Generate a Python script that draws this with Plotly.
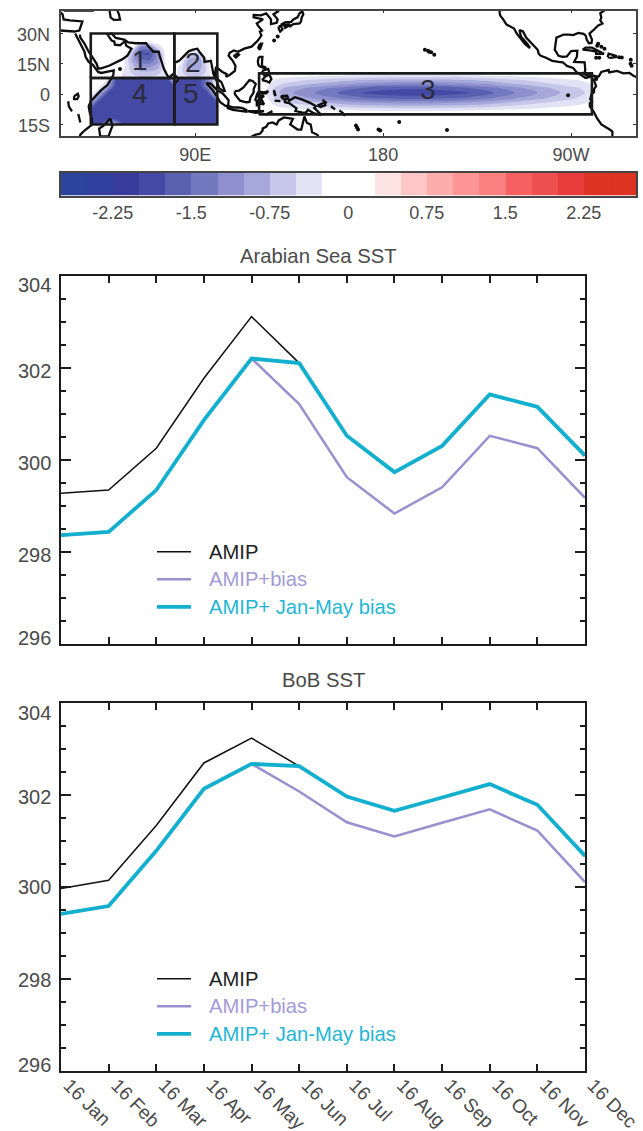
import plotly.graph_objects as go

W, H = 643, 1131
FONT = "Liberation Sans"
GREY = "#4a4a4a"
INK = "#1c1c1c"

months = ["16 Jan", "16 Feb", "16 Mar", "16 Apr", "16 May", "16 Jun",
          "16 Jul", "16 Aug", "16 Sep", "16 Oct", "16 Nov", "16 Dec"]

# ---- Arabian Sea SST
as_amip = [299.27, 299.34, 300.25, 301.77, 303.11, 302.10, 300.52, 299.73, 300.30, 301.42, 301.15, 300.09]
as_bias = [298.36, 298.43, 299.34, 300.86, 302.20, 301.21, 299.62, 298.83, 299.40, 300.52, 300.25, 299.17]
as_janmay = [298.36, 298.43, 299.34, 300.86, 302.20, 302.10, 300.52, 299.73, 300.30, 301.42, 301.15, 300.09]

# ---- BoB SST
bob_amip = [299.96, 300.14, 301.33, 302.69, 303.23, 302.62, 301.96, 301.65, 301.94, 302.23, 301.78, 300.67]
bob_bias = [299.41, 299.58, 300.78, 302.13, 302.67, 302.07, 301.40, 301.09, 301.39, 301.68, 301.22, 300.10]
bob_janmay = [299.41, 299.58, 300.78, 302.13, 302.67, 302.62, 301.96, 301.65, 301.94, 302.23, 301.78, 300.67]

# ---- colour bar
band_edges = [-2.75, -2.5, -2.25, -2.0, -1.75, -1.5, -1.25, -1.0, -0.75, -0.5, -0.25, 0.0,
              0.25, 0.5, 0.75, 1.0, 1.25, 1.5, 1.75, 2.0, 2.25, 2.5, 2.75]
band_colors = ["#2b459f", "#31409e", "#383a9c", "#4349a5", "#5960b0", "#7279bf", "#8d90cd", "#a5a8d9",
               "#c6c6e9", "#e2e2f4", "#ffffff", "#ffffff", "#fee3e3", "#fec6c6", "#feadad", "#fe9595",
               "#fd8080", "#f66060", "#ee5050", "#e83c3c", "#de3426", "#dc3322"]
cbar_ticks = [-2.25, -1.5, -0.75, 0, 0.75, 1.5, 2.25]
cbar_labels = ["-2.25", "-1.5", "-0.75", "0", "0.75", "1.5", "2.25"]

# ---- SST bias fields (lon, lat, values); Z is the near-zero background
Z = -.1
r1_lon = [40, 48, 52, 56, 60, 64, 68, 72, 76, 80]
r1_lat = [8, 11, 14, 17, 20, 23, 26, 30]
r1_z = [[Z, Z, Z, -.3, -.4, -.45, -.45, -.4, -.2, Z],
        [Z, Z, Z, -.3, -.55, -.7, -.7, -.6, -.3, Z],
        [Z, Z, Z, -.2, -.7, -1.05, -1.1, -.9, -.2, Z],
        [Z, Z, Z, -.2, -.85, -1.45, -1.55, -1.1, Z, Z],
        [Z, Z, Z, Z, -.75, -1.75, -1.8, -1.1, Z, Z],
        [Z, Z, Z, Z, -.2, -1.3, -1.3, -.5, Z, Z],
        [Z, Z, Z, Z, Z, Z, Z, Z, Z, Z],
        [Z, Z, Z, Z, Z, Z, Z, Z, Z, Z]]

r2_lon = [80, 83, 86, 89, 92, 95, 98, 100.6]
r2_lat = [8, 11, 14, 17, 20, 23, 30]
r2_z = [[Z, -.4, -.45, -.45, -.45, -.4, -.2, Z],
        [Z, -.45, -.6, -.7, -.7, -.5, Z, Z],
        [Z, -.3, -.8, -1, -.95, -.5, Z, Z],
        [Z, Z, -.7, -.95, -.9, -.35, Z, Z],
        [Z, Z, -.2, -.4, -.3, Z, Z, Z],
        [Z, Z, Z, Z, Z, Z, Z, Z],
        [Z, Z, Z, Z, Z, Z, Z, Z]]

r3_lon = [120.6, 124, 128, 132, 137, 147, 158, 170, 195, 221, 233, 243, 254, 265, 275, 280]
r3_lat = [-10, -8, -6, -4, -2, 0.7, 3, 5, 7, 9, 10.3]
r3_z = [[Z] * 16,
        [Z, -.04, -.09, -.13, -.15, -.19, -.23, -.26, -.3, -.26, -.23, -.19, -.15, -.11, -.08, -.06],
        [Z, -.09, -.22, -.31, -.36, -.45, -.54, -.63, -.7, -.63, -.54, -.45, -.36, -.27, -.2, -.14],
        [Z, -.14, -.34, -.48, -.57, -.71, -.86, -1, -1.11, -1, -.86, -.71, -.57, -.43, -.31, -.23],
        [Z, -.2, -.49, -.7, -.82, -1.03, -1.23, -1.44, -1.6, -1.44, -1.23, -1.03, -.82, -.62, -.45, -.33],
        [Z, -.25, -.6, -.85, -1, -1.25, -1.5, -1.75, -1.95, -1.75, -1.5, -1.25, -1, -.75, -.55, -.4],
        [Z, -.22, -.52, -.74, -.87, -1.09, -1.31, -1.52, -1.7, -1.52, -1.31, -1.09, -.87, -.65, -.48, -.35],
        [Z, -.15, -.37, -.52, -.61, -.76, -.92, -1.07, -1.19, -1.07, -.92, -.76, -.61, -.46, -.34, -.24],
        [Z, -.11, -.25, -.36, -.42, -.53, -.63, -.74, -.82, -.74, -.63, -.53, -.42, -.32, -.23, -.17],
        [Z, -.05, -.11, -.15, -.18, -.23, -.27, -.32, -.35, -.32, -.27, -.23, -.18, -.14, -.1, -.07],
        [Z] * 16]

r45_lon = [40, 44, 48, 52, 56, 60, 64, 68, 72, 76, 80, 84, 88, 92, 96, 100.6]
r45_lat = [-15, -12, -8, -4, 0, 4, 8]
D = -1.9
r45_z = [[D, D, -.7, -.9, D, D, D, D, D, D, D, D, D, D, D, D],
         [D, D, D, D, D, D, D, D, D, D, D, D, D, D, D, D],
         [D, D, D, D, D, D, D, D, D, D, D, D, D, D, D, D],
         [-.9, D, D, D, D, D, D, D, D, D, D, D, D, D, D, D],
         [Z, -.9, D, D, D, D, D, D, D, D, D, D, D, D, D, -.5],
         [Z, Z, -.9, D, D, D, D, D, D, D, D, D, D, D, -1.2, Z],
         [Z, Z, -.2, D, D, D, D, D, D, D, -.3, D, D, D, -1.4, Z]]

# ---- coast outlines (lon, lat)
mediterranean = [(25.5, 31.5), (32, 31), (34.5, 31.5), (36, 36), (30, 36.5), (27, 37), (26.5, 39.5), (25.5, 40.5)]
black_sea = [(27, 41.3), (31, 41.2), (36, 41.3), (41.5, 41.4)]
caspian = [(49, 41.4), (49.5, 38), (51, 36.8), (54, 36.9), (53.5, 39.5), (52.7, 41.4)]
africa_east = [(32.5, 30), (34, 27), (35.5, 24), (37, 21), (37.5, 18.5), (39, 16), (41, 14.5), (43, 12), (43.5, 11),
               (45, 10.5), (51, 11.8), (50.8, 9.5), (48, 4.5), (45, 2), (42, -1), (40, -3.5), (39, -6), (39.5, -9),
               (40.5, -12), (40.7, -15), (37, -18), (35, -20), (34.8, -21)]
lake_victoria = [(32, -1), (33.8, 0.2), (34.2, -1), (33.5, -2.5), (32, -2.5), (32, -1)]
lake_tanganyika = [(29.2, -3.5), (29.5, -6), (31, -8.5)]
lake_malawi = [(34, -9.8), (34.5, -12), (35, -14)]
madagascar = [(49.3, -12), (50.4, -15.5), (49.5, -18), (48.5, -20.9), (44.5, -20.9), (44, -17), (46, -15.7), (48, -13.5), (49.3, -12)]
asia_south = [(34.8, 29.5), (35, 28), (37, 25), (39, 21), (41, 18), (42.8, 15), (43.5, 12.7), (45, 12.8), (49, 14.2),
              (52, 15.8), (55, 17.2), (57.5, 19), (59.5, 22.5), (57, 24), (56.3, 26.2), (54, 24.2), (51.5, 24.5),
              (51.3, 26), (50, 26.5), (48, 29.5), (50, 30), (52, 27.8), (56, 27), (58, 25.6), (61.5, 25.2),
              (66.5, 25.3), (67.3, 24), (70, 21), (72.5, 21), (73, 19), (74, 15), (75, 12.5), (76.5, 9.5), (77.5, 8),
              (78.2, 9), (79.8, 10.2), (80.2, 13), (80, 15.5), (82.3, 16.5), (85, 19.5), (87, 21.3), (89, 22),
              (91, 22.5), (92, 21), (94.3, 18), (94.5, 16), (97.5, 16.5), (98, 14), (98.7, 10), (100.3, 6.5),
              (101.5, 3), (103.5, 1.4), (104.2, 1.6), (103.3, 4), (102.5, 6), (100.5, 7.5), (99.5, 10), (100, 13.5),
              (101, 12.7), (103, 11), (105, 10), (104.8, 8.7), (106.5, 9.5), (109, 11.5), (109.3, 14), (108, 16.5),
              (106, 19), (106.5, 20.5), (108.5, 21.6), (110.5, 21), (113.5, 22.5), (117, 23.5), (120, 26.5),
              (121.7, 29), (121, 31), (122, 31.5), (120, 34), (119.5, 35), (122.5, 37), (118, 38), (118, 39.2),
              (121.5, 39), (124, 40), (125.3, 38.5), (126.3, 37), (126.3, 34.7), (129, 35.3), (129.5, 37),
              (127.5, 39.5), (129.7, 41), (130, 41.5)]
sri_lanka = [(80, 9.6), (81.2, 8.5), (81.8, 7), (81, 6), (80, 6), (79.8, 8), (80, 9.6)]
sumatra = [(95.3, 5.5), (97.5, 5.2), (100, 2.5), (103.5, 0), (106, -3), (105.8, -5.8), (104.5, -5.8), (102, -4),
           (100.3, -1), (98.5, 1.8), (95.3, 5.5)]
java = [(105.2, -6.8), (106, -5.9), (108.5, -6.6), (110.8, -6.5), (112.7, -6.9), (114.5, -7.8), (114.5, -8.7),
        (111, -8.3), (108, -7.8), (105.2, -6.8)]
lesser_sunda = [(115, -8.4), (119, -8.4), (123, -8.4), (119, -9.2), (115, -8.4)]
timor = [(123.5, -10.3), (127, -8.4), (125, -9.7), (123.5, -10.3)]
borneo = [(109, 1.5), (111, 1.8), (113, 3.2), (116, 7), (117.5, 6.5), (119, 5), (118, 2.5), (118, 1), (117.5, 0),
          (116.5, -1.5), (116, -3.8), (114.5, -4), (111.5, -3.2), (110, -1.5), (109, 0), (109, 1.5)]
sulawesi = [(119.8, 0.5), (120.5, 1.2), (123, 0.9), (125, 1.5), (124, 0.4), (120.5, 0.3), (120.2, -1), (121.5, -1),
            (123, -0.9), (121.5, -2), (122.5, -4), (123, -5), (121.5, -4.8), (120.8, -2.7), (120.3, -3),
            (120.4, -5.5), (119.5, -5.5), (119.5, -3.5), (118.8, -2.8), (119.8, 0.5)]
luzon = [(120.5, 18.5), (122.2, 18.5), (122, 16), (122, 14), (124, 13), (123.5, 12.8), (121, 13.7), (120.3, 14.5),
         (120, 16), (120.5, 18.5)]
visayas = [(122, 11.5), (125, 12.5), (125.5, 10.5), (123, 9.5), (122, 11.5)]
mindanao = [(122, 7), (123.5, 8.6), (125.5, 9.7), (126.5, 7.5), (125.5, 5.8), (124, 6.5), (122, 7)]
halmahera = [(127.7, 2), (128, 0), (128.5, -0.8), (128, 1), (127.7, 2)]
seram = [(128, -3.2), (130.8, -3.4), (129, -2.9), (128, -3.2)]
new_guinea = [(131, -1), (134, -0.8), (135, -3.3), (137.8, -1.5), (141, -2.6), (145, -4.3), (147.8, -6), (147, -6.8),
              (150.5, -10.3), (147, -9.5), (144, -7.7), (143, -9.2), (141, -9), (138, -8.3), (138.5, -7), (135, -4.4),
              (133, -4), (132.8, -2.8), (134, -2.3), (132, -2.2), (131, -1)]
new_britain = [(148.5, -5.6), (152, -4.2), (152.3, -5.5), (150, -6.3), (148.5, -5.6)]
new_ireland = [(151, -2.8), (153, -4.5)]
solomons_a = [(155, -6), (157, -7.5)]
solomons_b = [(159, -8), (161, -9.5)]
solomons_c = [(160, -9.7), (162, -10.5)]
australia = [(117, -21), (119, -20), (121, -19.6), (122.3, -18), (122.3, -17), (124, -16.2), (125, -14.5), (127, -14),
             (129, -15), (130, -13), (132.5, -11.5), (135.5, -12), (136.8, -12.2), (135.5, -15), (139, -17.5),
             (140.8, -17.5), (141.5, -14), (142.3, -11), (143.5, -14.2), (145.3, -15), (146, -18.8), (148.5, -20.1),
             (149, -21)]
kyushu = [(130, 33.5), (131, 33.9), (131.8, 32), (130.7, 31), (130, 32.5), (130, 33.5)]
honshu = [(131, 34.3), (133, 35.5), (136, 35.8), (137, 37), (139, 38), (140, 40), (141.3, 41), (141.8, 39.5), (141, 38),
          (140.7, 36), (140, 35), (137, 34.7), (135.5, 33.6), (135, 34.5), (132.5, 34.2), (131, 34.3)]
shikoku = [(132.5, 33), (134, 34.2), (134.5, 33.7), (133, 32.8), (132.5, 33)]
taiwan = [(121, 25), (122, 25), (121, 22), (120.2, 23), (121, 25)]
hainan = [(109, 19.5), (110.5, 20), (111, 19.5), (109.5, 18.2), (108.7, 19), (109, 19.5)]
america_west = [(235.7, 41.5), (236, 39), (237.5, 37), (239, 34.5), (242.7, 32.5), (244, 30), (245.5, 28), (247.8, 25),
                (250, 23), (250.3, 23), (249, 25), (247.5, 27), (246, 28.5), (245.3, 31.7), (247, 31), (248.5, 28),
                (250.5, 25.8), (252, 24), (254, 22), (254.5, 20), (255.5, 19), (258, 18), (261, 16.5), (264, 16),
                (266, 15.8), (268, 14), (271, 13), (272.5, 11), (275, 9.5), (277, 8), (279, 8.5), (281, 9), (282.5, 8),
                (282.3, 7.2), (280.8, 7.5), (282, 4), (281, 2.5), (281, 1), (279.8, 0), (279.2, -2.5), (280, -3.5),
                (279, -4.5), (279, -6), (281, -9), (282.5, -12), (284.5, -15), (288.5, -17.5), (289.8, -18.5), (289.8, -21)]
america_east = [(286, 41.5), (284, 40), (284.5, 38), (284, 36.5), (285, 35), (283, 34), (281, 32), (278.8, 30), (280, 27),
                (279.8, 25.3), (278.5, 25.2), (277.5, 27), (277, 29), (276, 29.8), (273.5, 30.3), (271, 29.2),
                (269, 29.5), (266.5, 29.5), (263, 28), (262.5, 25), (262.2, 22), (264, 19), (266, 18.5), (268, 18.7),
                (269.3, 20.5), (270, 21.3), (273, 21.5), (272.8, 18.5), (271.5, 16), (276.5, 15.8), (276.8, 12),
                (276.3, 10), (278, 9), (279, 9.5), (282, 8.8), (283.3, 8.8), (284.5, 11), (288, 12), (288.3, 10.8),
                (292, 11.5), (295, 10.3), (298, 10.5), (300, 9), (301.5, 8.5)]
cuba = [(275.5, 22), (277, 23), (280, 23), (284, 21), (285.8, 20), (282, 20), (282, 21), (279, 21.7), (277, 21.8), (275.5, 22)]
hispaniola = [(287.5, 18.3), (288, 20), (291.5, 19), (291.5, 18.4), (289, 18), (287.5, 18.3)]
coast_lines = [mediterranean, black_sea, caspian, africa_east, lake_victoria, lake_tanganyika, lake_malawi, madagascar,
               asia_south, sri_lanka, sumatra, java, lesser_sunda, timor, borneo, sulawesi, luzon, visayas, mindanao,
               halmahera, seram, new_guinea, new_britain, new_ireland, solomons_a, solomons_b, solomons_c, australia,
               kyushu, honshu, shikoku, taiwan, hainan, america_west, america_east, cuba, hispaniola]
islet_lon = [54, 127.8, 129.5, 167, 167.5, 168, 177.8, 178.6, 187.7, 210.6, 200, 201.5, 203, 204.5, 268.6,
             282, 283.5, 293, 294.3, 283, 282.5, 284.5, 286, 298.5, 299, 298.6, 202]
islet_lat = [12.5, 26.5, 28.5, -15.5, -16.5, -17.5, -17.5, -18, -13.8, -17.7, 22, 21.5, 20.8, 19.5, -0.5,
             18, 18, 18.3, 18.2, 25, 24, 23.5, 22.5, 15, 14, 17, 21]

# ---- analysis boxes (lon0, lon1, lat0, lat1) and labels (lon, lat)
box_lon0 = [40, 80, 120.6, 40, 80]
box_lon1 = [80, 100.6, 280, 80, 100.6]
box_lat0 = [8, 8, -10, -15, -15]
box_lat1 = [30, 30, 10.3, 8, 8]
box_names = ["1", "2", "3", "4", "5"]
name_lon = [63.4, 89, 201.5, 63.4, 88]
name_lat = [16.6, 15.8, 2.2, 0.5, 0.5]

lat_ticks = [30, 15, 0, -15]
lat_labels = ["30N", "15N", "0", "15S"]
lon_ticks = [90, 180, 270]
lon_labels = ["90E", "180", "90W"]


def ydom(top, bottom):
    return [1 - bottom / H, 1 - top / H]


def xdom(left, right):
    return [left / W, right / W]


scale = []
for i, c in enumerate(band_colors):
    scale += [[i / len(band_colors), c], [(i + 1) / len(band_colors), c]]

fig = go.Figure()

# SST fields
for lon, lat, z in [(r1_lon, r1_lat, r1_z), (r2_lon, r2_lat, r2_z), (r3_lon, r3_lat, r3_z), (r45_lon, r45_lat, r45_z)]:
    fig.add_trace(go.Contour(x=lon, y=lat, z=z, xaxis="x", yaxis="y", colorscale=scale, zmin=-2.75, zmax=2.75,
                             autocontour=False, showscale=False, hoverinfo="skip",
                             contours=dict(start=-2.75, end=2.75, size=0.25, coloring="fill", showlines=False),
                             line=dict(width=0)))

# coasts
coast_x, coast_y = [], []
for seg in coast_lines:
    coast_x += [p[0] for p in seg] + [None]
    coast_y += [p[1] for p in seg] + [None]
fig.add_trace(go.Scatter(x=coast_x, y=coast_y, mode="lines", xaxis="x", yaxis="y", showlegend=False,
                         line=dict(color="#0d0d0d", width=2.3)))
fig.add_trace(go.Scatter(x=islet_lon, y=islet_lat, mode="markers", xaxis="x", yaxis="y", showlegend=False,
                         marker=dict(color="#0d0d0d", size=4)))

# boxes
box_x, box_y = [], []
for a, b, c, d in zip(box_lon0, box_lon1, box_lat0, box_lat1):
    box_x += [a, b, b, a, a, None]
    box_y += [c, c, d, d, c, None]
fig.add_trace(go.Scatter(x=box_x, y=box_y, mode="lines", xaxis="x", yaxis="y", showlegend=False,
                         line=dict(color="#1a1a1a", width=2.6)))

# colour bar
fig.add_trace(go.Heatmap(x=band_edges, y=[0, 1], z=[[(a + b) / 2 for a, b in zip(band_edges[:-1], band_edges[1:])]],
                         xaxis="x2", yaxis="y2", colorscale=scale, zmin=-2.75, zmax=2.75, showscale=False,
                         hoverinfo="skip"))

# line panels
for xa, ya, amip, bias, jm in [("x3", "y3", as_amip, as_bias, as_janmay), ("x4", "y4", bob_amip, bob_bias, bob_janmay)]:
    xs = list(range(len(months)))
    fig.add_trace(go.Scatter(x=xs, y=amip, mode="lines", xaxis=xa, yaxis=ya, name="AMIP", showlegend=False,
                             line=dict(color="#111111", width=1.5)))
    fig.add_trace(go.Scatter(x=xs, y=bias, mode="lines", xaxis=xa, yaxis=ya, name="AMIP+bias", showlegend=False,
                             line=dict(color="#9a8fcf", width=2.5)))
    fig.add_trace(go.Scatter(x=xs, y=jm, mode="lines", xaxis=xa, yaxis=ya, name="AMIP+ Jan-May bias", showlegend=False,
                             line=dict(color="#12afcf", width=3.8)))

annotations = []
shapes = []

# box numbers
for n, a, b in zip(box_names, name_lon, name_lat):
    annotations.append(dict(x=a, y=b, xref="x", yref="y", text=n, showarrow=False,
                            font=dict(family=FONT, size=28, color="#2c2c3c")))

# panel titles
annotations.append(dict(x=318 / W, y=1 - 256 / H, xref="paper", yref="paper", text="Arabian Sea SST", showarrow=False,
                        yanchor="middle", font=dict(family=FONT, size=20.3, color=GREY)))
annotations.append(dict(x=323 / W, y=1 - 680 / H, xref="paper", yref="paper", text="BoB SST", showarrow=False,
                        yanchor="middle", font=dict(family=FONT, size=20.3, color=GREY)))

# y tick labels and legends
y_tick_vals = [304, 302, 300, 298, 296]
for xa, ya, shifts in [("x3", "y3", [-9.3, -3, -3, -3, 6]), ("x4", "y4", [-10, -2, -0.5, -1, 5.7])]:
    for v, s in zip(y_tick_vals, shifts):
        annotations.append(dict(x=53 / W, y=v, xref="paper", yref=ya, text=str(v), showarrow=False, xanchor="right",
                                yanchor="middle", yshift=s, font=dict(family=FONT, size=20, color=GREY)))
    for label, col, lw, v, tc in [("AMIP", "#111111", 1.5, 298, "#222222"),
                                  ("AMIP+bias", "#9a8fcf", 2.5, 297.4, "#a39ad6"),
                                  ("AMIP+ Jan-May bias", "#12afcf", 3.8, 296.8, "#25b5d4")]:
        shapes.append(dict(type="line", xref=xa, yref=ya, x0=2.015, x1=2.73, y0=v, y1=v, line=dict(color=col, width=lw)))
        annotations.append(dict(x=3.06, y=v, xref=xa, yref=ya, text=label, showarrow=False, xanchor="left",
                                yanchor="middle", font=dict(family=FONT, size=20.2, color=tc)))

axis_line = dict(showline=True, linecolor=INK, linewidth=2, mirror="ticks", showgrid=False, zeroline=False, automargin=False)
lp = dict(range=[0, 11], domain=xdom(61, 585), tickmode="array", tickvals=list(range(12)), ticks="inside", ticklen=7,
          tickwidth=1.6, tickcolor=INK, **axis_line)
yp = dict(range=[296, 304], tickmode="array", tickvals=y_tick_vals, showticklabels=False, ticks="inside", ticklen=10,
          tickwidth=1.6, tickcolor=INK,
          minor=dict(tickmode="linear", tick0=296, dtick=0.5, ticks="inside", ticklen=5, tickwidth=1.6, tickcolor=INK),
          **axis_line)

fig.update_layout(
    width=W, height=H, margin=dict(l=0, r=0, t=0, b=0), paper_bgcolor="white", plot_bgcolor="white",
    showlegend=False, annotations=annotations, shapes=shapes,
    xaxis=dict(range=[25.5, 301.1], domain=xdom(60.5, 636), tickmode="array", tickvals=lon_ticks, ticktext=lon_labels,
               ticks="inside", ticklen=3, tickwidth=1.3, tickcolor="#333", showline=True, linecolor="#444", linewidth=1.8,
               mirror="ticks", showgrid=False, zeroline=False, ticklabelstandoff=1, automargin=False,
               tickfont=dict(family=FONT, size=18, color=GREY)),
    yaxis=dict(range=[-20.7, 41.4], domain=ydom(10.5, 136), tickmode="array", tickvals=lat_ticks, ticktext=lat_labels,
               ticks="inside", ticklen=3, tickwidth=1.3, tickcolor="#333", showline=True, linecolor="#444", linewidth=1.8,
               mirror="ticks", showgrid=False, zeroline=False, ticklabelstandoff=5, ticklabelshift=1, automargin=False,
               tickfont=dict(family=FONT, size=18, color=GREY)),
    xaxis2=dict(range=[-2.75, 2.75], domain=xdom(60.5, 636), anchor="y2", tickmode="array", tickvals=cbar_ticks,
                ticktext=cbar_labels, ticks="", showline=True, linecolor="#444", linewidth=1.6, mirror=True,
                showgrid=False, zeroline=False, ticklabelstandoff=0, automargin=False,
                tickfont=dict(family=FONT, size=18, color=GREY)),
    yaxis2=dict(range=[0, 1], domain=ydom(172.5, 195.5), anchor="x2", showticklabels=False, ticks="", showline=True,
                linecolor="#444", linewidth=1.6, mirror=True, showgrid=False, zeroline=False, automargin=False),
    xaxis3=dict(anchor="y3", showticklabels=False, **lp),
    yaxis3=dict(domain=ydom(275.7, 643.7), anchor="x3", **yp),
    xaxis4=dict(anchor="y4", ticktext=months, tickangle=45, ticklabelstandoff=-6, ticklabelshift=8,
                tickfont=dict(family=FONT, size=19, color=GREY), **lp),
    yaxis4=dict(domain=ydom(702.7, 1070.7), anchor="x4", **yp),
)

fig.write_html("out.html", config=dict(displayModeBar=False),
               post_script="document.body.style.margin='0';document.body.style.overflow='hidden';")
